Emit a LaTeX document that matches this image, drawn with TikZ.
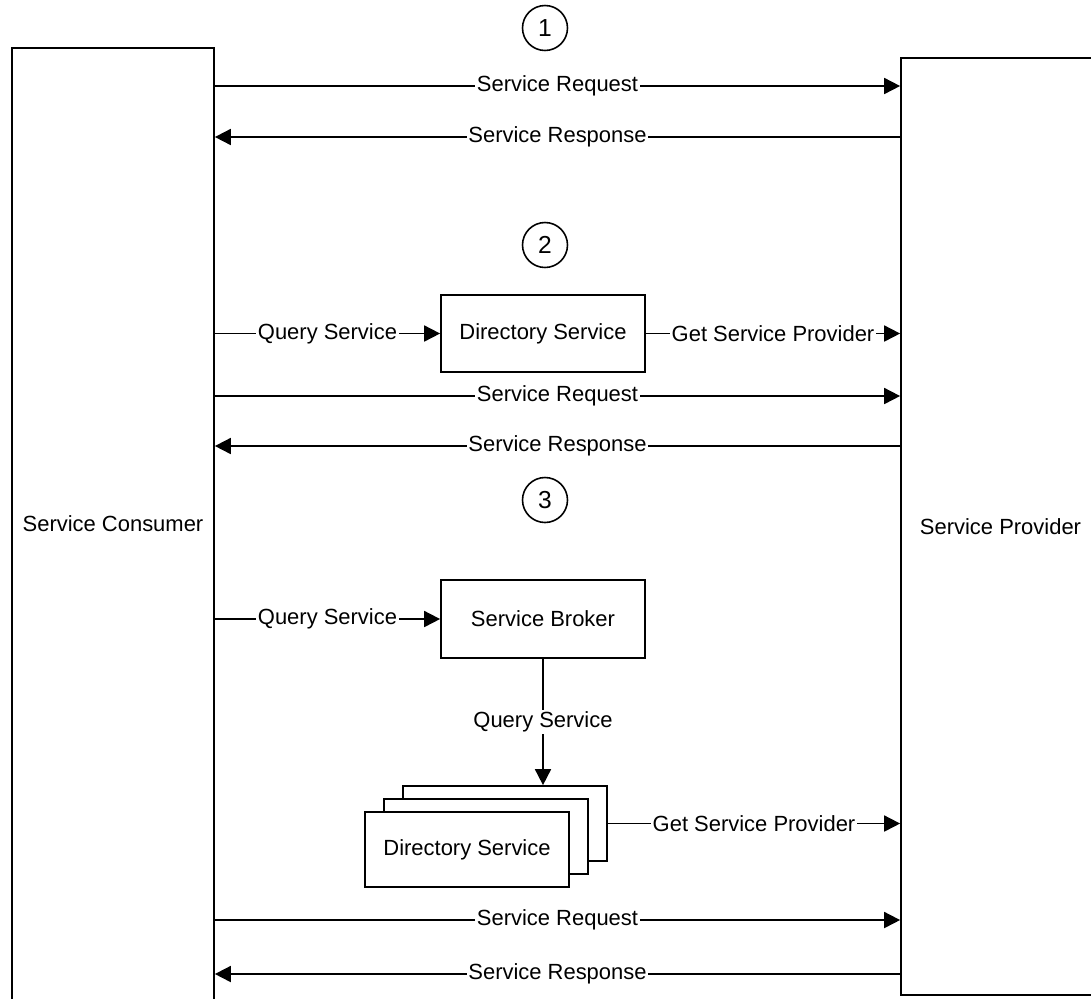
\documentclass[tikz,border=0pt]{standalone}
\usepackage{fontspec}
\setmainfont{Liberation Sans}
\usetikzlibrary{arrows.meta, positioning, calc}

\begin{document}
\begin{tikzpicture}[
  x=0.02cm, y=-0.02cm,
  font=\fontsize{12.5}{15}\selectfont,
  party/.style={rectangle, draw, line width=1pt, align=center, inner sep=0pt},
  svc/.style={rectangle, draw, line width=1pt, fill=white, align=center,
              minimum width=4.08cm, minimum height=1.52cm, inner sep=0pt},
  numc/.style={circle, draw, line width=0.9pt, minimum size=0.9cm, inner sep=0pt,
               font=\fontsize{14}{16}\selectfont},
  lbl/.style={fill=white, inner sep=1pt},
  arr/.style={-{Triangle[length=3.2mm, width=3.2mm]}, line width=1pt}
]
\useasboundingbox (0,0) rectangle (1091,998);
\clip (0,0) rectangle (1091,998);
%% the two parties
\node[party, minimum width=4.04cm, minimum height=19.04cm] (consumer) at (113,524) {Service Consumer};
\node[party, minimum width=3.98cm, minimum height=18.74cm] (provider) at (1000.5,526.5) {Service Provider};
%% scenario numbers
\node[numc] (num1) at (545,28)  {1};
\node[numc] (num2) at (545,245) {2};
\node[numc] (num3) at (545,500) {3};
%% rows for request / response
\coordinate (req1)  at (0,86);
\coordinate (resp1) at (0,137);
\coordinate (req2)  at (0,396);
\coordinate (resp2) at (0,446);
\coordinate (req3)  at (0,920);
\coordinate (resp3) at (0,974);
%% scenario 1: direct
\draw[arr] (consumer.east |- req1) -- (provider.west |- req1)
    node[lbl, midway] {Service Request};
\draw[arr] (provider.west |- resp1) -- (consumer.east |- resp1)
    node[lbl, midway] {Service Response};
%% scenario 2: directory lookup
\node[svc, minimum height=1.54cm] (dir2) at (543,333.5) {Directory Service};
\draw[arr] (consumer.east |- dir2) -- (dir2)
    node[lbl, midway] {Query Service};
\draw[arr] (dir2) -- (provider.west |- dir2)
    node[lbl, midway] {Get Service Provider};
\draw[arr] (consumer.east |- req2) -- (provider.west |- req2)
    node[lbl, midway] {Service Request};
\draw[arr] (provider.west |- resp2) -- (consumer.east |- resp2)
    node[lbl, midway] {Service Response};
%% scenario 3: broker over several directories
\node[svc, minimum height=1.56cm] (broker) at (543,619) {Service Broker};
\node[svc, minimum height=1.5cm] (dir3c) at (505,823.5) {};
\node[svc, minimum height=1.5cm] (dir3b) at (486,836.5) {};
\node[svc, minimum height=1.5cm] (dir3a) at (467,849.5) {Directory Service};
\draw[arr] (consumer.east |- broker) -- (broker)
    node[lbl, midway] {Query Service};
\draw[arr] (broker.south) -- (broker.south |- dir3c.north)
    node[lbl, midway] {Query Service};
\draw[arr] (dir3c) -- (provider.west |- dir3c)
    node[lbl, midway] {Get Service Provider};
\draw[arr] (consumer.east |- req3) -- (provider.west |- req3)
    node[lbl, midway] {Service Request};
\draw[arr] (provider.west |- resp3) -- (consumer.east |- resp3)
    node[lbl, midway] {Service Response};
\end{tikzpicture}
\end{document}
